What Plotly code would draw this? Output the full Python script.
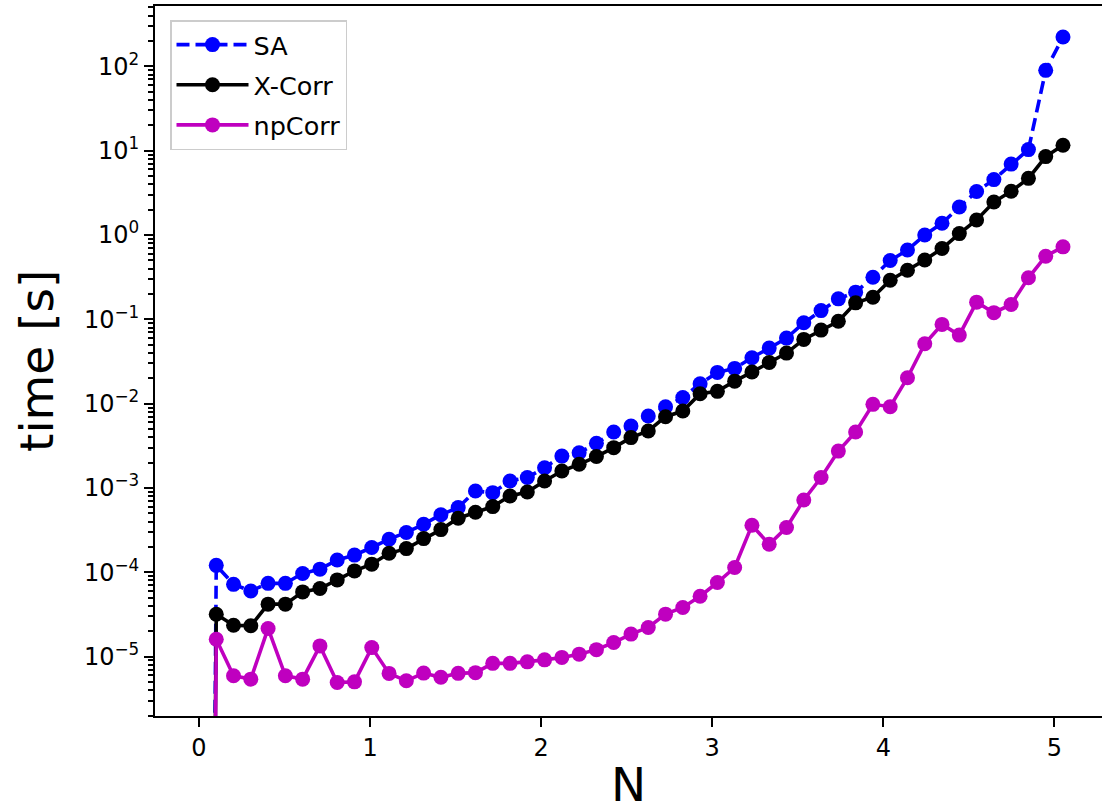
import plotly.graph_objects as go

# ---- data ----
N = [0.0, 0.101, 0.202, 0.303, 0.404, 0.505, 0.606, 0.707, 0.808, 0.909,
     1.01, 1.111, 1.212, 1.313, 1.414, 1.515, 1.616, 1.717, 1.818, 1.919,
     2.02, 2.121, 2.222, 2.323, 2.424, 2.525, 2.626, 2.727, 2.828, 2.929,
     3.03, 3.131, 3.232, 3.333, 3.434, 3.535, 3.636, 3.737, 3.838, 3.939,
     4.04, 4.141, 4.242, 4.343, 4.444, 4.545, 4.646, 4.747, 4.848, 4.949,
     5.05]

sa_time = [0, 1.21e-4, 7.2e-5, 6.0e-5, 7.4e-5, 7.4e-5, 9.7e-5, 1.09e-4, 1.40e-4, 1.60e-4,
           1.97e-4, 2.47e-4, 2.97e-4, 3.72e-4, 4.81e-4, 5.86e-4, 9.2e-4, 8.8e-4, 1.21e-3, 1.33e-3,
           1.74e-3, 2.39e-3, 2.62e-3, 3.39e-3, 4.61e-3, 5.43e-3, 7.13e-3, 9.2e-3, 1.18e-2, 1.72e-2,
           2.35e-2, 2.62e-2, 3.51e-2, 4.56e-2, 5.99e-2, 9.1e-2, 0.127, 0.175, 0.210, 0.316,
           0.499, 0.664, 1.00, 1.38, 2.15, 3.28, 4.54, 6.94, 10.3, 89.7,
           223]

xcorr_time = [0, 3.18e-5, 2.36e-5, 2.32e-5, 4.19e-5, 4.19e-5, 5.86e-5, 6.43e-5, 8.13e-5, 1.04e-4,
              1.25e-4, 1.68e-4, 1.91e-4, 2.51e-4, 3.21e-4, 4.38e-4, 5.15e-4, 6.02e-4, 8.04e-4, 8.97e-4,
              1.21e-3, 1.59e-3, 1.91e-3, 2.36e-3, 3.01e-3, 3.96e-3, 4.74e-3, 7.01e-3, 8.17e-3, 1.31e-2,
              1.40e-2, 1.85e-2, 2.37e-2, 3.08e-2, 3.98e-2, 5.78e-2, 7.45e-2, 9.5e-2, 0.157, 0.183,
              0.291, 0.382, 0.506, 0.692, 1.04, 1.51, 2.46, 3.30, 4.70, 8.51,
              11.6]

npcorr_time = [0, 1.61e-5, 5.93e-6, 5.41e-6, 2.16e-5, 5.93e-6, 5.41e-6, 1.34e-5, 4.94e-6, 5.02e-6,
               1.28e-5, 6.33e-6, 5.17e-6, 6.38e-6, 5.69e-6, 6.34e-6, 6.46e-6, 8.33e-6, 8.33e-6, 8.67e-6,
               9.16e-6, 9.79e-6, 1.07e-5, 1.21e-5, 1.47e-5, 1.85e-5, 2.22e-5, 3.19e-5, 3.83e-5, 5.21e-5,
               7.57e-5, 1.14e-4, 3.61e-4, 2.15e-4, 3.40e-4, 7.21e-4, 1.33e-3, 2.74e-3, 4.61e-3, 9.82e-3,
               9.21e-3, 2.03e-2, 5.14e-2, 8.71e-2, 6.50e-2, 0.160, 0.120, 0.150, 0.311, 0.561,
               0.724]

series_names = ["SA", "X-Corr", "npCorr"]
x_title = "N"
y_title = "time [s]"

x_ticks = [0, 1, 2, 3, 4, 5]
x_ticklabels = ["0", "1", "2", "3", "4", "5"]
y_ticks = [1e-5, 1e-4, 1e-3, 1e-2, 1e-1, 1e0, 1e1, 1e2]
y_ticklabels = ["10<sup>\u22125</sup>", "10<sup>\u22124</sup>", "10<sup>\u22123</sup>",
                "10<sup>\u22122</sup>", "10<sup>\u22121</sup>", "10<sup>0</sup>",
                "10<sup>1</sup>", "10<sup>2</sup>"]

assert len(N) == len(sa_time) == len(xcorr_time) == len(npcorr_time)


def clip_nonpositive(vals):
    # matplotlib's log scale clips non-positive values to a tiny number,
    # giving a line that plunges off the bottom of the axes
    return [v if v > 0 else 1e-30 for v in vals]


FONT = "DejaVu Sans"
styles = [
    dict(color="#0000ff", dash="13px,6px"),
    dict(color="#000000", dash="solid"),
    dict(color="#bf00bf", dash="solid"),
]

fig = go.Figure()
for name, vals, st in zip(series_names, [sa_time, xcorr_time, npcorr_time], styles):
    fig.add_trace(go.Scatter(
        x=N, y=clip_nonpositive(vals), name=name, mode="lines+markers",
        legendgroup=name,
        line=dict(color=st["color"], width=3.6, dash=st["dash"]),
        marker=dict(color=st["color"], size=15, line=dict(width=0)),
        cliponaxis=True,
    ))

minor_vals = [m * 10.0 ** k for k in range(-7, 3) for m in range(2, 10)]

fig.update_layout(
    width=1102, height=812,
    margin=dict(l=155, r=0, t=6, b=96),
    paper_bgcolor="white", plot_bgcolor="white",
    font=dict(family=FONT, size=24, color="black"),
    showlegend=True,
    legend=dict(
        x=(170 - 155) / 947, y=1 - (20 - 6) / 710, xanchor="left", yanchor="top",
        bgcolor="rgba(255,255,255,0.8)", bordercolor="#cccccc", borderwidth=1.5,
        font=dict(family=FONT, size=25.5, color="black"),
        tracegroupgap=4, itemwidth=72,
    ),
    xaxis=dict(
        range=[-0.257, 5.278], tickmode="array", tickvals=x_ticks, ticktext=x_ticklabels,
        ticks="outside", ticklen=9, tickwidth=2, tickcolor="black",
        showline=True, linewidth=2, linecolor="black", mirror=True,
        showgrid=False, zeroline=False, automargin=False,
        title=dict(text=x_title, font=dict(family=FONT, size=47), standoff=20),
    ),
    yaxis=dict(
        type="log", range=[-5.704, 2.716], tickmode="array", tickvals=y_ticks, ticktext=y_ticklabels,
        ticks="outside", ticklen=9, tickwidth=2, tickcolor="black",
        minor=dict(tickvals=minor_vals, ticks="outside", ticklen=5, tickwidth=1.5, tickcolor="black",
                   showgrid=False),
        showline=True, linewidth=2, linecolor="black",
        showgrid=False, zeroline=False, automargin=False,
    ),
    annotations=[dict(
        text=y_title, textangle=-90, showarrow=False,
        xref="paper", yref="paper", x=(36 - 155) / 947, y=0.5,
        xanchor="center", yanchor="middle",
        font=dict(family=FONT, size=47, color="black"),
    )],
)

fig.write_html("out.html")
